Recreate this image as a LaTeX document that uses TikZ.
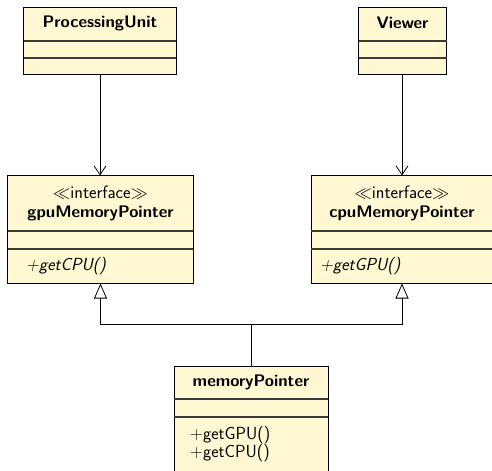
\documentclass[tikz,border=0pt]{standalone}
\usepackage{amssymb}
\usetikzlibrary{arrows.meta}
\definecolor{classfill}{HTML}{FFF8D2}
\definecolor{linegray}{HTML}{3A3A3A}
\tikzset{
  cls/.style={draw=black, fill=classfill, line width=1bp, inner sep=0pt, rectangle},
  sep/.style={draw=linegray, line width=1.1bp},
  title/.style={font=\sffamily\bfseries\fontsize{16.8}{19}\selectfont, inner sep=0pt},
  stereo/.style={font=\sffamily\fontsize{18}{20}\selectfont, inner sep=0pt},
  meth/.style={font=\sffamily\fontsize{17.6}{18}\selectfont, inner sep=0pt, anchor=west, align=left},
  dep/.style={draw=black, line width=0.8bp, -{Straight Barb[length=9bp, width=12bp]}},
  gen/.style={draw=black, line width=0.8bp, -{Triangle[open, length=15bp, width=13bp, fill=white]}},
  plain/.style={draw=black, line width=0.8bp},
}
\begin{document}
\begin{tikzpicture}[x=1bp, y=-1bp]
\useasboundingbox (0,0) rectangle (492,471);
% ProcessingUnit
\node[cls, minimum width=152bp, minimum height=66.5bp] (pu) at (100,41.25) {};
\draw[sep] (24,41) -- (176,41);
\draw[sep] (24,58) -- (176,58);
\node[title] (putxt) at (100,23) {ProcessingUnit};
% Viewer
\node[cls, minimum width=88bp, minimum height=66.5bp] (vw) at (402.5,41.25) {};
\draw[sep] (358.5,41) -- (446.5,41);
\draw[sep] (358.5,58) -- (446.5,58);
\node[title] (vwtxt) at (402.5,23) {Viewer};
% gpuMemoryPointer
\node[cls, minimum width=185bp, minimum height=107bp] (gpu) at (100.5,229.5) {};
\draw[sep] (8,231) -- (193,231);
\draw[sep] (8,249) -- (193,249);
\node[stereo] (gpust) at (100.5,193) {$\ll$interface$\gg$};
\node[title] (gputxt) at (100.5,213) {gpuMemoryPointer};
\node[meth] (gpum) at (26,266) {\itshape +getCPU()};
% cpuMemoryPointer
\node[cls, minimum width=182bp, minimum height=107bp] (cpu) at (402,229.5) {};
\draw[sep] (311,231) -- (493,231);
\draw[sep] (311,249) -- (493,249);
\node[stereo] (cpust) at (402,193) {$\ll$interface$\gg$};
\node[title] (cputxt) at (402,213) {cpuMemoryPointer};
\node[meth] (cpum) at (320,266) {\itshape +getGPU()};
% memoryPointer
\node[cls, minimum width=154bp, minimum height=124bp] (mp) at (251,428) {};
\draw[sep] (174,399) -- (328,399);
\draw[sep] (174,417) -- (328,417);
\node[title] (mptxt) at (251,382) {memoryPointer};
\node[meth] (mpm) at (190,444) {+getGPU()\\+getCPU()};
% connectors
\draw[dep] (pu.south) -- (pu.south |- gpu.north);
\draw[dep] (vw.south -| cpu.north) -- (cpu.north);
\coordinate (j) at (251,324);
\draw[plain] (mp.north) -- (j);
\draw[gen] (j) -| (gpu.south);
\draw[gen] (j) -| (cpu.south);
\end{tikzpicture}
\end{document}
